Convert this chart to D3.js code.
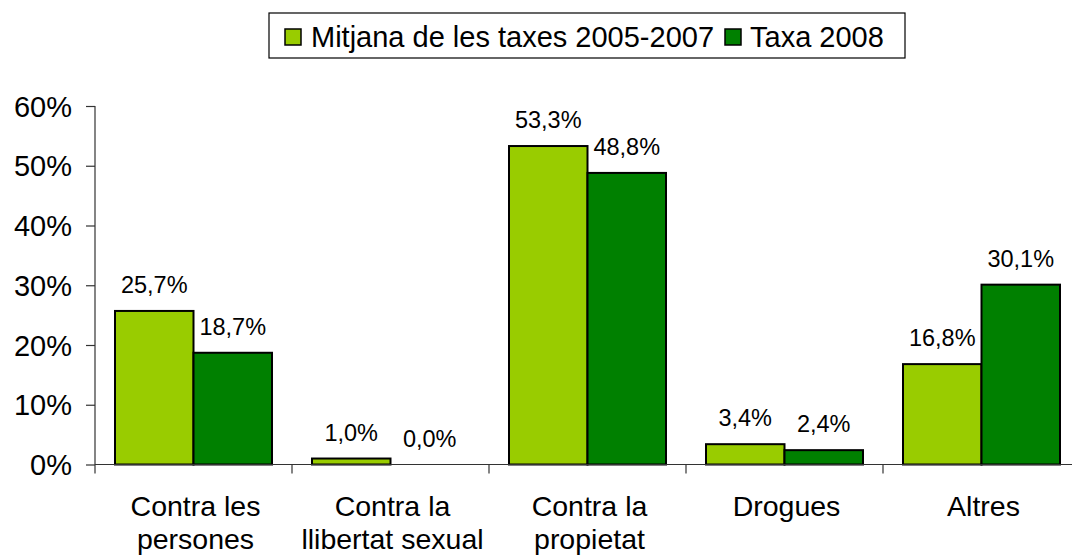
<!DOCTYPE html>
<html>
<head>
<meta charset="utf-8">
<script src="https://cdn.jsdelivr.net/npm/d3@7"></script>
<style>
  html, body { margin: 0; padding: 0; background: #fff; }
  svg { display: block; font-family: "Liberation Sans", Arial, sans-serif; }
</style>
</head>
<body>
<svg id="chart" width="1072" height="558"></svg>
<script>
const categories = [["Contra les", "persones"], ["Contra la", "llibertat sexual"], ["Contra la", "propietat"], ["Drogues"], ["Altres"]];
const seriesNames = ["Mitjana de les taxes 2005-2007", "Taxa 2008"];
const mitjana = [25.7, 1.0, 53.3, 3.4, 16.8];
const taxa2008 = [18.7, 0.0, 48.8, 2.4, 30.1];
const yTicks = [0, 10, 20, 30, 40, 50, 60];
const colors = ["#99CC00", "#008000"];

const svg = d3.select("#chart");
const mLeft = 95, mRight = 1080, mTop = 106, mBottom = 464.5;

const x0 = d3.scaleBand().domain(d3.range(categories.length)).range([mLeft, mRight]).paddingInner(0).paddingOuter(0);
const x1 = d3.scaleBand().domain([0, 1]).range([20, x0.bandwidth() - 20]).padding(0);
const y = d3.scaleLinear().domain([0, 60]).range([mBottom, mTop]);

// Y axis
const yAxis = d3.axisLeft(y).tickValues(yTicks).tickFormat(d => d + "%").tickSize(9).tickSizeOuter(0);
const gy = svg.append("g").attr("transform", `translate(${mLeft},0)`).call(yAxis);
gy.select(".domain").remove();
gy.selectAll(".tick line").attr("stroke", "#333").attr("stroke-width", 1.2);
gy.selectAll(".tick text").attr("x", -23).attr("dy", "0.35em")
  .attr("font-size", 29).attr("fill", "#000").attr("font-family", "Liberation Sans, Arial, sans-serif");
svg.append("line").attr("x1", mLeft).attr("x2", mLeft).attr("y1", mTop).attr("y2", mBottom + 9)
  .attr("stroke", "#333").attr("stroke-width", 1.2);

// Bars
const data = categories.map((c, i) => ({i, vals: [mitjana[i], taxa2008[i]]}));
const groups = svg.selectAll("g.grp").data(data).join("g").attr("class", "grp")
  .attr("transform", d => `translate(${x0(d.i)},0)`);
groups.selectAll("rect").data(d => d.vals.map((v, k) => ({v, k})).filter(e => e.v > 0)).join("rect")
  .attr("x", d => x1(d.k)).attr("width", x1.bandwidth())
  .attr("y", d => y(d.v)).attr("height", d => mBottom - y(d.v))
  .attr("fill", d => colors[d.k]).attr("stroke", "#000").attr("stroke-width", 2);
groups.selectAll("text.val").data(d => d.vals.map((v, k) => ({v, k}))).join("text").attr("class", "val")
  .attr("x", d => x1(d.k) + x1.bandwidth() / 2).attr("y", d => y(d.v) - 18)
  .attr("text-anchor", "middle").attr("font-size", 23.5).attr("fill", "#000")
  .text(d => d.v.toFixed(1).replace(".", ",") + "%");

// X axis
svg.append("line").attr("x1", mLeft).attr("x2", mRight).attr("y1", mBottom).attr("y2", mBottom)
  .attr("stroke", "#333").attr("stroke-width", 1.2);
svg.selectAll("line.xt").data(d3.range(1, categories.length + 1)).join("line").attr("class", "xt")
  .attr("x1", i => x0(i - 1) + x0.bandwidth()).attr("x2", i => x0(i - 1) + x0.bandwidth())
  .attr("y1", mBottom).attr("y2", mBottom + 9).attr("stroke", "#333").attr("stroke-width", 1.2);
const cl = svg.selectAll("text.cat").data(categories).join("text").attr("class", "cat")
  .attr("x", (d, i) => x0(i) + x0.bandwidth() / 2 + 2).attr("y", 516)
  .attr("text-anchor", "middle").attr("font-size", 28.5).attr("fill", "#000");
cl.selectAll("tspan").data(d => d).join("tspan")
  .attr("x", function() { return this.parentNode.getAttribute("x"); })
  .attr("dy", (d, j) => j === 0 ? 0 : 33).text(d => d);

// Legend
const lg = svg.append("g");
lg.append("rect").attr("x", 269).attr("y", 13).attr("width", 636).attr("height", 45)
  .attr("fill", "#fff").attr("stroke", "#000").attr("stroke-width", 1.2);
const items = [{x: 285, tx: 311}, {x: 725, tx: 750}];
seriesNames.forEach((n, k) => {
  lg.append("rect").attr("x", items[k].x).attr("y", 29).attr("width", 16).attr("height", 16)
    .attr("fill", colors[k]).attr("stroke", "#000").attr("stroke-width", 1.5);
  lg.append("text").attr("x", items[k].tx).attr("y", 47).attr("font-size", 29).attr("fill", "#000").text(n);
});
</script>
</body>
</html>
